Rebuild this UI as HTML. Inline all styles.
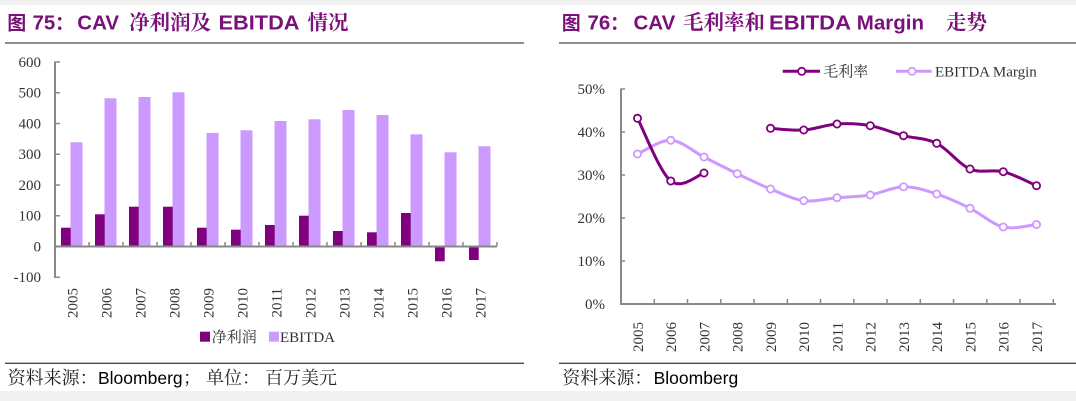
<!DOCTYPE html>
<html><head><meta charset="utf-8"><style>
html,body{margin:0;padding:0;background:#fff;}
svg{display:block;}
.cjs{font-family:"Noto Serif CJK SC","Noto Serif CJK TC",serif;}
.cjh{font-family:"Noto Sans CJK SC",sans-serif;}
.lat{font-family:"Liberation Sans",Arial,sans-serif;}
.ser{font-family:"Liberation Serif",serif;}
</style></head><body>
<svg width="1076" height="401" viewBox="0 0 1076 401" xmlns="http://www.w3.org/2000/svg">
<rect x="0" y="0" width="1076" height="401" fill="#ffffff"/>
<rect x="0" y="0" width="1076" height="5" fill="#f2f2f2"/>
<rect x="0" y="391" width="1076" height="10" fill="#f0f0f0"/>

<!-- ============ LEFT PANEL ============ -->
<g fill="#7a117a" font-weight="bold">
<text class="cjh" x="7.3" y="29.5" font-size="19">图</text>
<text class="lat" x="32.5" y="29.5" font-size="20.5">75</text>
<text class="cjh" x="55" y="29.5" font-size="19">：</text>
<text class="lat" x="77.3" y="29.5" font-size="20.5">CAV</text>
<text class="cjs" x="129" y="29.5" font-size="20.5">净利润及</text>
<text class="lat" x="218.5" y="29.5" font-size="20.5" textLength="81" lengthAdjust="spacingAndGlyphs">EBITDA</text>
<text class="cjs" x="307.5" y="29.5" font-size="20.5">情况</text>
</g>
<line x1="5" y1="43" x2="524" y2="43" stroke="#4a4a4a" stroke-width="1.3"/>

<!-- left y labels -->
<g class="ser" font-size="15" fill="#333" text-anchor="end">
<text x="41" y="67">600</text>
<text x="41" y="97.7">500</text>
<text x="41" y="128.5">400</text>
<text x="41" y="159.2">300</text>
<text x="41" y="190">200</text>
<text x="41" y="220.7">100</text>
<text x="41" y="251.5">0</text>
<text x="41" y="282.2">-100</text>
</g>

<!-- bars: EBITDA -->
<g fill="#cc99ff">
<rect x="70.5" y="142.3" width="12" height="104.2"/>
<rect x="104.5" y="98.3" width="12" height="148.2"/>
<rect x="138.5" y="97" width="12" height="149.5"/>
<rect x="172.5" y="92.3" width="12" height="154.2"/>
<rect x="206.5" y="133" width="12" height="113.5"/>
<rect x="240.5" y="130.3" width="12" height="116.2"/>
<rect x="274.5" y="121" width="12" height="125.5"/>
<rect x="308.5" y="119.3" width="12" height="127.2"/>
<rect x="342.5" y="110" width="12" height="136.5"/>
<rect x="376.5" y="115" width="12" height="131.5"/>
<rect x="410.5" y="134.3" width="12" height="112.2"/>
<rect x="444.5" y="152.3" width="12" height="94.2"/>
<rect x="478.5" y="146.3" width="12" height="100.2"/>
</g>
<!-- bars: net profit -->
<g fill="#800080">
<rect x="61" y="227.7" width="9.7" height="18.8"/>
<rect x="95" y="214.3" width="9.7" height="32.2"/>
<rect x="129" y="206.7" width="9.7" height="39.8"/>
<rect x="163" y="206.7" width="9.7" height="39.8"/>
<rect x="197" y="227.7" width="9.7" height="18.8"/>
<rect x="231" y="229.7" width="9.7" height="16.8"/>
<rect x="265" y="225" width="9.7" height="21.5"/>
<rect x="299" y="215.7" width="9.7" height="30.8"/>
<rect x="333" y="231" width="9.7" height="15.5"/>
<rect x="367" y="232.3" width="9.7" height="14.2"/>
<rect x="401" y="213" width="9.7" height="33.5"/>
<rect x="435" y="246.5" width="9.7" height="14.8"/>
<rect x="469" y="246.5" width="9.7" height="13.5"/>
</g>

<!-- left axes -->
<g stroke="#888" fill="none">
<line x1="55" y1="61.5" x2="55" y2="278" stroke-width="2"/>
<line x1="54" y1="246.5" x2="497" y2="246.5" stroke-width="2"/>
<path d="M55 62H60M55 92.75H60M55 123.5H60M55 154.25H60M55 185H60M55 215.75H60M55 277.25H60" stroke-width="1.5"/>
<path d="M89 246V242M123 246V242M157 246V242M191 246V242M225 246V242M259 246V242M293 246V242M327 246V242M361 246V242M395 246V242M429 246V242M463 246V242M497 246V242" stroke-width="1.5"/>
</g>

<!-- left x labels -->
<g class="ser" font-size="15" fill="#333" text-anchor="end">
<text transform="translate(77.3,288) rotate(-90)">2005</text>
<text transform="translate(111.3,288) rotate(-90)">2006</text>
<text transform="translate(145.3,288) rotate(-90)">2007</text>
<text transform="translate(179.3,288) rotate(-90)">2008</text>
<text transform="translate(213.3,288) rotate(-90)">2009</text>
<text transform="translate(247.3,288) rotate(-90)">2010</text>
<text transform="translate(281.3,288) rotate(-90)">2011</text>
<text transform="translate(315.3,288) rotate(-90)">2012</text>
<text transform="translate(349.3,288) rotate(-90)">2013</text>
<text transform="translate(383.3,288) rotate(-90)">2014</text>
<text transform="translate(417.3,288) rotate(-90)">2015</text>
<text transform="translate(451.3,288) rotate(-90)">2016</text>
<text transform="translate(485.3,288) rotate(-90)">2017</text>
</g>

<!-- left legend -->
<rect x="200" y="331.7" width="10" height="10" fill="#800080"/>
<text class="cjs" x="211.7" y="342" font-size="15" fill="#333">净利润</text>
<rect x="269" y="331.7" width="10" height="10" fill="#cc99ff"/>
<text class="ser" x="280" y="342" font-size="15" fill="#333">EBITDA</text>

<line x1="5" y1="363.3" x2="524" y2="363.3" stroke="#4a4a4a" stroke-width="1.3"/>
<g font-size="18" fill="#222">
<text class="cjs" x="7.6" y="384">资料来源：</text>
<text class="lat" x="98" y="384" font-size="17.5" fill="#000">Bloomberg</text>
<text class="cjs" x="183" y="384">；</text>
<text class="cjs" x="206" y="384">单位：</text>
<text class="cjs" x="265" y="384">百万美元</text>
</g>

<!-- ============ RIGHT PANEL ============ -->
<g fill="#7a117a" font-weight="bold">
<text class="cjh" x="561.7" y="29.5" font-size="19">图</text>
<text class="lat" x="587.5" y="29.5" font-size="20.5">76</text>
<text class="cjh" x="610" y="29.5" font-size="19">：</text>
<text class="lat" x="633.5" y="29.5" font-size="20.5">CAV</text>
<text class="cjs" x="683" y="29.5" font-size="20.5">毛利率和</text>
<text class="lat" x="769" y="29.5" font-size="20.5" textLength="82" lengthAdjust="spacingAndGlyphs">EBITDA</text>
<text class="lat" x="856.8" y="29.5" font-size="20.5">Margin</text>
<text class="cjs" x="946" y="29.5" font-size="20.5">走势</text>
</g>
<line x1="559" y1="43" x2="1076" y2="43" stroke="#4a4a4a" stroke-width="1.3"/>

<!-- right legend -->
<line x1="782.7" y1="71.3" x2="820" y2="71.3" stroke="#800080" stroke-width="3"/>
<circle cx="801.7" cy="71.3" r="3.6" fill="#fff" stroke="#800080" stroke-width="1.8"/>
<text class="cjs" x="823.3" y="76.5" font-size="15" fill="#333">毛利率</text>
<line x1="896" y1="71.3" x2="931.7" y2="71.3" stroke="#cc99ff" stroke-width="3"/>
<circle cx="912" cy="71.3" r="3.6" fill="#fff" stroke="#cc99ff" stroke-width="1.8"/>
<text class="ser" x="935" y="76.5" font-size="15" fill="#333">EBITDA Margin</text>

<!-- right y labels -->
<g class="ser" font-size="15" fill="#333" text-anchor="end">
<text x="605" y="94">50%</text>
<text x="605" y="137">40%</text>
<text x="605" y="180">30%</text>
<text x="605" y="223">20%</text>
<text x="605" y="266">10%</text>
<text x="605" y="309">0%</text>
</g>

<!-- right axes -->
<g stroke="#888" fill="none">
<line x1="621" y1="88.5" x2="621" y2="305" stroke-width="2"/>
<line x1="620" y1="304" x2="1056" y2="304" stroke-width="2"/>
<path d="M621 89H625M621 132H625M621 175H625M621 218H625M621 261H625" stroke-width="1.5"/>
<path d="M654.3 304V299M687.5 304V299M720.8 304V299M754 304V299M787.3 304V299M820.5 304V299M853.8 304V299M887 304V299M920.3 304V299M953.5 304V299M986.8 304V299M1020 304V299M1053.3 304V299" stroke-width="1.5"/>
</g>

<!-- EBITDA margin line -->
<path fill="none" stroke="#cc99ff" stroke-width="3" stroke-linejoin="round" d="M637.5 154 C643.04 151.72 659.67 139.8 670.75 140.3 C681.83 140.8 692.92 151.43 704 157 C715.08 162.57 726.17 168.37 737.25 173.7 C748.33 179.03 759.42 184.5 770.5 189 C781.58 193.5 792.67 199.25 803.75 200.7 C814.83 202.15 825.92 198.65 837 197.7 C848.08 196.75 859.17 196.83 870.25 195 C881.33 193.17 892.42 186.87 903.5 186.7 C914.58 186.53 925.67 190.4 936.75 194 C947.83 197.6 958.92 202.8 970 208.3 C981.08 213.8 992.17 224.3 1003.25 227 C1014.33 229.7 1030.96 224.92 1036.5 224.5"/>
<g fill="#fff" stroke="#cc99ff" stroke-width="1.8">
<circle cx="637.5" cy="154" r="3.6"/>
<circle cx="670.75" cy="140.3" r="3.6"/>
<circle cx="704" cy="157" r="3.6"/>
<circle cx="737.25" cy="173.7" r="3.6"/>
<circle cx="770.5" cy="189" r="3.6"/>
<circle cx="803.75" cy="200.7" r="3.6"/>
<circle cx="837" cy="197.7" r="3.6"/>
<circle cx="870.25" cy="195" r="3.6"/>
<circle cx="903.5" cy="186.7" r="3.6"/>
<circle cx="936.75" cy="194" r="3.6"/>
<circle cx="970" cy="208.3" r="3.6"/>
<circle cx="1003.25" cy="227" r="3.6"/>
<circle cx="1036.5" cy="224.5" r="3.6"/>
</g>

<!-- Gross margin line -->
<path fill="none" stroke="#800080" stroke-width="3" stroke-linejoin="round" d="M637.5 118.3 C643.04 128.75 659.67 171.88 670.75 181 C681.83 190.12 698.46 174.33 704 173"/>
<path fill="none" stroke="#800080" stroke-width="3" stroke-linejoin="round" d="M770.5 128.3 C776.04 128.58 792.67 130.72 803.75 130 C814.83 129.28 825.92 124.72 837 124 C848.08 123.28 859.17 123.75 870.25 125.7 C881.33 127.65 892.42 132.77 903.5 135.7 C914.58 138.63 925.67 137.75 936.75 143.3 C947.83 148.85 958.92 164.27 970 169 C981.08 173.73 992.17 168.92 1003.25 171.7 C1014.33 174.48 1030.96 183.37 1036.5 185.7"/>
<g fill="#fff" stroke="#800080" stroke-width="1.8">
<circle cx="637.5" cy="118.3" r="3.6"/>
<circle cx="670.75" cy="181" r="3.6"/>
<circle cx="704" cy="173" r="3.6"/>
<circle cx="770.5" cy="128.3" r="3.6"/>
<circle cx="803.75" cy="130" r="3.6"/>
<circle cx="837" cy="124" r="3.6"/>
<circle cx="870.25" cy="125.7" r="3.6"/>
<circle cx="903.5" cy="135.7" r="3.6"/>
<circle cx="936.75" cy="143.3" r="3.6"/>
<circle cx="970" cy="169" r="3.6"/>
<circle cx="1003.25" cy="171.7" r="3.6"/>
<circle cx="1036.5" cy="185.7" r="3.6"/>
</g>

<!-- right x labels -->
<g class="ser" font-size="15" fill="#333" text-anchor="end">
<text transform="translate(642.8,322) rotate(-90)">2005</text>
<text transform="translate(676,322) rotate(-90)">2006</text>
<text transform="translate(709.3,322) rotate(-90)">2007</text>
<text transform="translate(742.5,322) rotate(-90)">2008</text>
<text transform="translate(775.8,322) rotate(-90)">2009</text>
<text transform="translate(809,322) rotate(-90)">2010</text>
<text transform="translate(842.3,322) rotate(-90)">2011</text>
<text transform="translate(875.5,322) rotate(-90)">2012</text>
<text transform="translate(908.8,322) rotate(-90)">2013</text>
<text transform="translate(942,322) rotate(-90)">2014</text>
<text transform="translate(975.3,322) rotate(-90)">2015</text>
<text transform="translate(1008.5,322) rotate(-90)">2016</text>
<text transform="translate(1041.8,322) rotate(-90)">2017</text>
</g>

<line x1="559" y1="363.3" x2="1076" y2="363.3" stroke="#4a4a4a" stroke-width="1.3"/>
<g font-size="18" fill="#222">
<text class="cjs" x="562.4" y="384">资料来源：</text>
<text class="lat" x="653.6" y="384" font-size="17.5" fill="#000">Bloomberg</text>
</g>
</svg>
</body></html>
